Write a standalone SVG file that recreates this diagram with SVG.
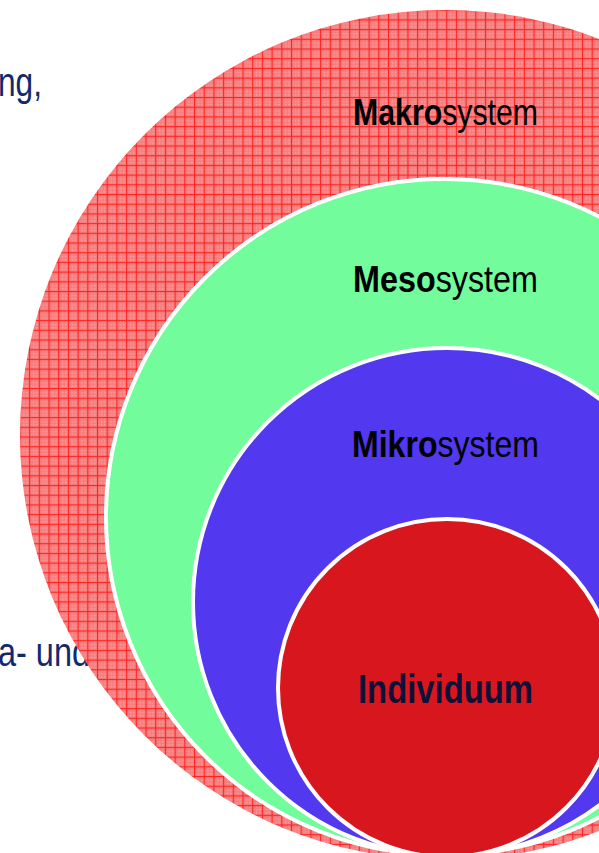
<svg xmlns="http://www.w3.org/2000/svg" width="599" height="853" viewBox="0 0 599 853">
<style>
.side{font-family:"Liberation Sans",Arial,sans-serif;fill:#13296b;font-size:40px}
.lbl{font-family:"Liberation Sans",Arial,sans-serif;fill:#000;font-size:36px}
.b{font-weight:bold}
.ring{stroke:#fff;stroke-width:4}
</style>
<defs>
<pattern id="dots" width="3" height="3" patternUnits="userSpaceOnUse">
<rect width="3" height="3" fill="#f67e7e"/>
<rect x="1" y="1" width="1" height="1" fill="#fdc4c4"/>
</pattern>
<pattern id="grid" width="9.7" height="9.7" patternUnits="userSpaceOnUse">
<rect width="9.7" height="9.7" fill="url(#dots)"/>
<path d="M0 0.6H9.7M0.6 0V9.7" stroke="#ff2424" stroke-width="1.2" fill="none"/>
</pattern>
</defs>
<rect width="599" height="853" fill="#fff"/>
<g id="side-text">
<text class="side" x="-2" y="96" textLength="44" lengthAdjust="spacingAndGlyphs">ng,</text>
<text class="side" x="-2" y="666" textLength="92" lengthAdjust="spacingAndGlyphs">a- und</text>
</g>
<g id="makro">
<circle cx="445" cy="435" r="425" fill="url(#grid)"/>
<text class="lbl" x="353" y="125" textLength="185" lengthAdjust="spacingAndGlyphs"><tspan class="b">Makro</tspan>system</text>
</g>
<g id="meso">
<circle class="ring" cx="444" cy="517" r="338" fill="#73fc9b"/>
<text class="lbl" x="353" y="292" textLength="185" lengthAdjust="spacingAndGlyphs"><tspan class="b">Meso</tspan>system</text>
</g>
<g id="mikro">
<circle class="ring" cx="447" cy="602" r="254" fill="#5238ee"/>
<text class="lbl" x="352" y="457" textLength="187" lengthAdjust="spacingAndGlyphs"><tspan class="b">Mikro</tspan>system</text>
</g>
<g id="individuum">
<circle class="ring" cx="447" cy="688" r="169" fill="#d7171d"/>
<text class="lbl b" x="358" y="703" style="fill:#0f1038;font-size:40px" textLength="175" lengthAdjust="spacingAndGlyphs">Individuum</text>
</g>
<g id="connectors"/>
</svg>
